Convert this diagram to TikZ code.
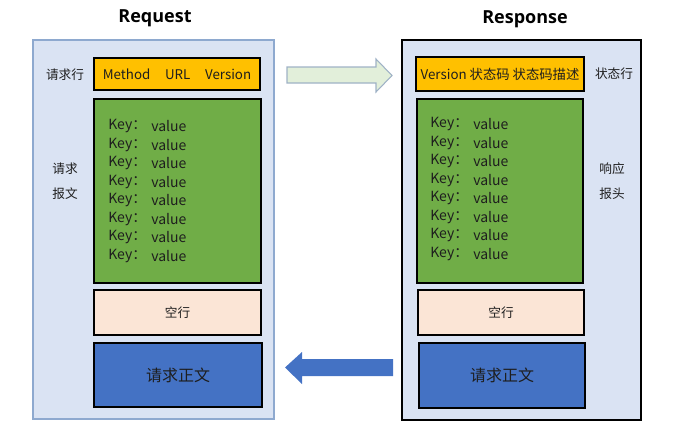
\documentclass[tikz,border=0pt]{standalone}
\usepackage{fontspec}
\setmainfont{Noto Sans CJK SC}
\newfontfamily\titlefont{Open Sans}
\usepackage{xcolor}
\usetikzlibrary{calc}
\definecolor{panel}{HTML}{DAE3F3}
\definecolor{panelline}{HTML}{8EA9CF}
\definecolor{yellow}{HTML}{FFC000}
\definecolor{green}{HTML}{70AD47}
\definecolor{peach}{HTML}{FBE5D6}
\definecolor{blue}{HTML}{4472C4}
\definecolor{paleg}{HTML}{E2EFDA}
\definecolor{paleline}{HTML}{9FB2C6}
\definecolor{ink}{HTML}{1E1E1E}
\tikzset{
  panelbox/.style={fill=panel, line width=0.8pt, inner sep=0pt},
  part/.style={draw=black, line width=0.8pt, inner sep=0pt, text=ink},
  linebox/.style={part, fill=yellow, font=\fontsize{10}{12}\selectfont},
  headbox/.style={part, fill=green},
  blankbox/.style={part, fill=peach, font=\fontsize{9.5}{11}\selectfont},
  bodybox/.style={part, fill=blue, font=\fontsize{12}{14}\selectfont},
  kv/.style={text=ink, anchor=west, inner sep=0pt, font=\fontsize{10.5}{12}\selectfont},
  side/.style={text=ink, font=\fontsize{9.5}{11}\selectfont},
  title/.style={text=black, font=\titlefont\bfseries\fontsize{13.5}{16}\selectfont}
}

\begin{document}
\begin{tikzpicture}[x=0.75pt, y=-0.75pt]
  \useasboundingbox (0,0) rectangle (699,443);

  % outer panels
  \node[panelbox, draw=panelline, minimum width=180.75pt, minimum height=284.25pt] (req) at (153.5,229.5) {};
  \node[panelbox, draw=black, minimum width=179.25pt, minimum height=285pt] (res) at (521.5,230) {};

  \node[title] (reqtitle) at (155,18) {Request};
  \node[title] (restitle) at (525,19) {Response};

  % request side
  \node[linebox, minimum width=124.5pt, minimum height=24pt] (reqline) at (177,74)
    {Method\hspace{1.1em}URL\hspace{1.1em}Version};
  \node[headbox, minimum width=125.25pt, minimum height=138pt] (reqhead) at (177.5,191) {};
  \node[blankbox, minimum width=125.25pt, minimum height=33.75pt] (reqblank) at (177.5,312.5) {空行};
  \node[bodybox, minimum width=126pt, minimum height=48pt] (reqbody) at (178,375) {请求正文};

  \foreach \i in {0,...,7} {
    \node[kv] (reqkey\i) at (108,126+18.57*\i) {Key：};
    \node[kv] (reqval\i) at (151,126+18.57*\i) {value};
  }

  \node[side] (reqlinelbl) at (65,75) {请求行};
  \node[side] (reqmsg1) at (65,169) {请求};
  \node[side] (reqmsg2) at (65,194) {报文};

  % response side
  \node[linebox, minimum width=126pt, minimum height=25.5pt] (resline) at (500,74)
    {Version 状态码 状态码描述};
  \node[headbox, minimum width=124.5pt, minimum height=138pt] (reshead) at (500,191) {};
  \node[blankbox, minimum width=124.5pt, minimum height=33.75pt] (resblank) at (501,312.5) {空行};
  \node[bodybox, minimum width=124.5pt, minimum height=48.75pt] (resbody) at (502,375.5) {请求正文};

  \foreach \i in {0,...,7} {
    \node[kv] (reskey\i) at (430,124+18.57*\i) {Key：};
    \node[kv] (resval\i) at (473,124+18.57*\i) {value};
  }

  \node[side] (reslinelbl) at (614,74) {状态行};
  \node[side] (reshead1) at (612,169) {响应};
  \node[side] (reshead2) at (612,194) {报头};

  % block arrows
  \draw[fill=paleg, draw=paleline, line width=0.8pt, line join=miter]
    (287,67) -- (376,67) -- (376,59) -- (392,75.5) -- (376,92) -- (376,83) -- (287,83) -- cycle;
  \fill[blue]
    (393,359) -- (302,359) -- (302,352) -- (285,367.5) -- (302,384) -- (302,376) -- (393,376) -- cycle;
\end{tikzpicture}
\end{document}
